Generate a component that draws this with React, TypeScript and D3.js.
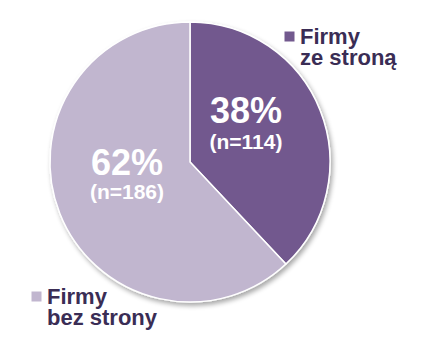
import React from "react";
import * as d3 from "d3";

const categories = ["Firmy ze stroną", "Firmy bez strony"];
const percents = [38, 62];
const counts = [114, 186];
const colors = ["#72598e", "#c1b6cf"];
const legendLines = [["Firmy", "ze stroną"], ["Firmy", "bez strony"]];

export default function App() {
  const cx = 190, cy = 162, r = 140;
  const pie = d3.pie<number>().sort(null).value((d) => d);
  const arcs = pie(percents);
  const arc = d3.arc<d3.PieArcDatum<number>>().innerRadius(0).outerRadius(r);
  const labelPos = [
    [246, 123, 149],
    [127, 175, 199],
  ];
  const legendPos = [
    [284, 31],
    [31, 291],
  ];
  const font = "Liberation Sans, Arial, sans-serif";
  return (
    <svg width={436} height={356} style={{ position: "absolute", left: 0, top: 0 }}>
      <defs>
        <filter id="sh" x="-20%" y="-20%" width="140%" height="140%">
          <feGaussianBlur in="SourceAlpha" stdDeviation="2.5" />
          <feOffset dx="2" dy="3" result="b" />
          <feComponentTransfer>
            <feFuncA type="linear" slope="0.35" />
          </feComponentTransfer>
          <feMerge>
            <feMergeNode />
            <feMergeNode in="SourceGraphic" />
          </feMerge>
        </filter>
      </defs>
      <g transform={`translate(${cx},${cy})`} filter="url(#sh)">
        {arcs.map((a, i) => (
          <path key={i} d={arc(a) || ""} fill={colors[i]} stroke="#ffffff" strokeWidth={1.5} />
        ))}
      </g>
      {arcs.map((a, i) => (
        <g key={"l" + i} fill="#ffffff" fontFamily={font} fontWeight="bold" textAnchor="middle">
          <text x={labelPos[i][0]} y={labelPos[i][1]} fontSize={36}>{percents[i]}%</text>
          <text x={labelPos[i][0]} y={labelPos[i][2]} fontSize={21}>(n={counts[i]})</text>
        </g>
      ))}
      {categories.map((c, i) => (
        <g key={"g" + i} fontFamily={font} fontWeight="bold" fill="#3a2d55">
          <rect x={legendPos[i][0]} y={legendPos[i][1]} width={11} height={11} fill={colors[i]} stroke="#ffffff" strokeWidth={1} />
          <text x={legendPos[i][0] + 16} y={legendPos[i][1] + 13} fontSize={22}>{legendLines[i][0]}</text>
          <text x={legendPos[i][0] + 16} y={legendPos[i][1] + 34} fontSize={22}>{legendLines[i][1]}</text>
        </g>
      ))}
    </svg>
  );
}
